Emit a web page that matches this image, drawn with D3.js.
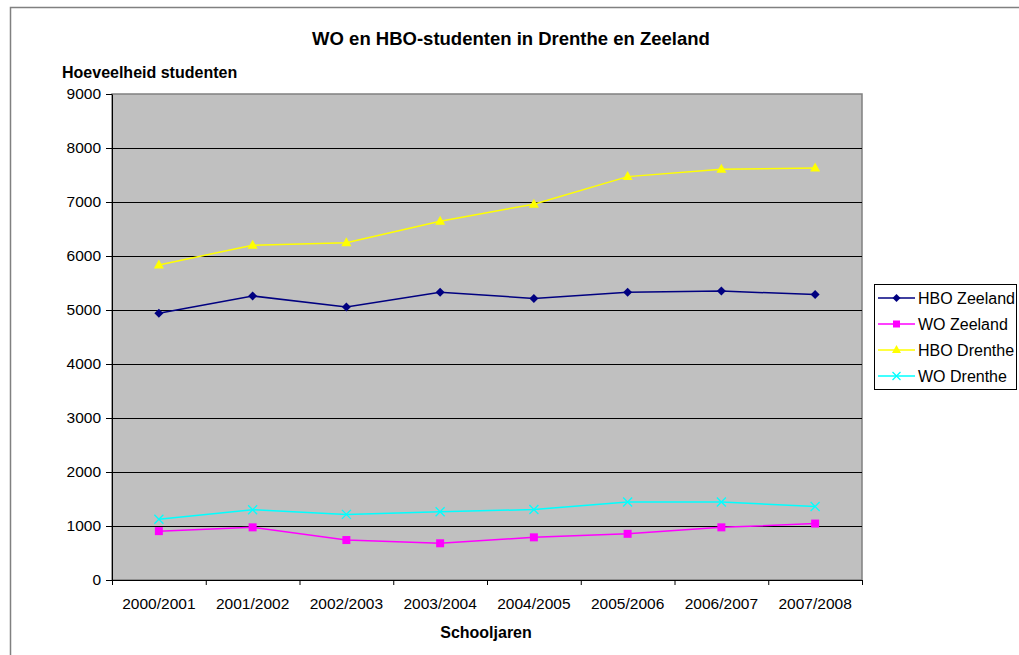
<!DOCTYPE html>
<html>
<head>
<meta charset="utf-8">
<script src="https://cdn.jsdelivr.net/npm/d3@7/dist/d3.min.js"></script>
<style>
  body { margin: 0; background: #fff; }
  svg { display: block; font-family: "Liberation Sans", Arial, sans-serif; }
</style>
</head>
<body>
<svg id="chart" width="1019" height="655"></svg>
<script>
// Chart data
var years = ['2000/2001', '2001/2002', '2002/2003', '2003/2004', '2004/2005', '2005/2006', '2006/2007', '2007/2008'];
var hboZeeland = [4940, 5260, 5055, 5330, 5215, 5330, 5350, 5285];
var woZeeland = [905, 975, 740, 680, 790, 855, 975, 1045];
var hboDrenthe = [5835, 6200, 6245, 6645, 6960, 7470, 7605, 7630];
var woDrenthe = [1125, 1300, 1215, 1265, 1305, 1445, 1445, 1360];
var yTicks = [0, 1000, 2000, 3000, 4000, 5000, 6000, 7000, 8000, 9000];

var series = [
  { name: 'HBO Zeeland', values: hboZeeland, color: '#000080', marker: 'diamond' },
  { name: 'WO Zeeland', values: woZeeland, color: '#FF00FF', marker: 'square' },
  { name: 'HBO Drenthe', values: hboDrenthe, color: '#FFFF00', marker: 'triangle' },
  { name: 'WO Drenthe', values: woDrenthe, color: '#00FFFF', marker: 'cross' }
];

var svg = d3.select('#chart');
var margin = { top: 94, left: 112 };
var innerWidth = 750;
var innerHeight = 486;
var tickFont = 15.5;

// Outer chart frame (runs past the right and bottom edge)
svg.append('path')
  .attr('d', 'M10.5,660V7.5H1030')
  .attr('fill', 'none').attr('stroke', '#808080').attr('stroke-width', 1.5);

var x = d3.scaleBand().domain(years).range([0, innerWidth]);
var y = d3.scaleLinear().domain([0, 9000]).range([innerHeight, 0]);

var g = svg.append('g').attr('transform', 'translate(' + margin.left + ',' + margin.top + ')');

// Plot area
g.append('rect')
  .attr('width', innerWidth).attr('height', innerHeight)
  .attr('fill', '#C0C0C0').attr('stroke', '#808080').attr('stroke-width', 1.5);

// Gridlines
g.selectAll('.grid').data(yTicks.slice(1, -1)).enter().append('line')
  .attr('x1', 0).attr('x2', innerWidth)
  .attr('y1', function (d) { return Math.round(y(d)) + 0.5; })
  .attr('y2', function (d) { return Math.round(y(d)) + 0.5; })
  .attr('stroke', '#000').attr('stroke-width', 1);

// Axes
var yAxis = d3.axisLeft(y).tickValues(yTicks).tickSizeInner(6).tickSizeOuter(0).tickPadding(5).tickFormat(d3.format('d'));
var yg = g.append('g').call(yAxis);
var xAxis = d3.axisBottom(d3.scaleLinear().domain([0, years.length]).range([0, innerWidth]))
  .tickValues(d3.range(years.length + 1)).tickSizeInner(5).tickSizeOuter(0);
var xg = g.append('g').attr('transform', 'translate(0,' + innerHeight + ')').call(xAxis);
xg.selectAll('.tick text').remove();
[yg, xg].forEach(function (a) {
  a.select('.domain').attr('stroke', '#000').attr('stroke-width', 1);
  a.selectAll('.tick line').attr('stroke', '#000');
  a.selectAll('text').attr('font-size', tickFont).attr('fill', '#000').attr('font-family', '"Liberation Sans", Arial, sans-serif');
});

g.selectAll('.xlabel').data(years).enter().append('text')
  .attr('x', function (d) { return x(d) + x.bandwidth() / 2; })
  .attr('y', innerHeight + 29)
  .attr('text-anchor', 'middle').attr('font-size', tickFont)
  .text(function (d) { return d; });

// Marker drawing
function drawMarker(sel, type, color, size) {
  var s = size;
  if (type === 'diamond') {
    sel.append('path').attr('d', 'M0,' + (-s) + 'L' + s + ',0L0,' + s + 'L' + (-s) + ',0Z').attr('fill', color);
  } else if (type === 'square') {
    sel.append('rect').attr('x', -s + 0.5).attr('y', -s + 0.5).attr('width', 2 * s - 1).attr('height', 2 * s - 1).attr('fill', color);
  } else if (type === 'triangle') {
    sel.append('path').attr('d', 'M0,' + (-s - 1) + 'L' + (s + 0.5) + ',' + (s - 1) + 'L' + (-s - 0.5) + ',' + (s - 1) + 'Z').attr('fill', color);
  } else {
    sel.append('path').attr('d', 'M' + (-s) + ',' + (-s) + 'L' + s + ',' + s + 'M' + s + ',' + (-s) + 'L' + (-s) + ',' + s)
      .attr('stroke', color).attr('stroke-width', 1.3).attr('fill', 'none');
  }
}

var line = d3.line()
  .x(function (d, i) { return x(years[i]) + x.bandwidth() / 2; })
  .y(function (d) { return y(d); });

series.forEach(function (s) {
  g.append('path').datum(s.values)
    .attr('d', line).attr('fill', 'none')
    .attr('stroke', s.color).attr('stroke-width', 1.5);
  s.values.forEach(function (v, i) {
    var m = g.append('g').attr('transform', 'translate(' + (x(years[i]) + x.bandwidth() / 2) + ',' + y(v) + ')');
    drawMarker(m, s.marker, s.color, 4.5);
  });
});

// Titles
svg.append('text').attr('x', 511).attr('y', 45).attr('text-anchor', 'middle')
  .attr('font-size', 18.5).attr('font-weight', 'bold').text('WO en HBO-studenten in Drenthe en Zeeland');
svg.append('text').attr('x', 62).attr('y', 78)
  .attr('font-size', 16).attr('font-weight', 'bold').text('Hoeveelheid studenten');
svg.append('text').attr('x', 486).attr('y', 638).attr('text-anchor', 'middle')
  .attr('font-size', 16).attr('font-weight', 'bold').text('Schooljaren');

// Legend
var legend = svg.append('g').attr('transform', 'translate(874,284)');
legend.append('rect').attr('x', 0.5).attr('y', 0.5).attr('width', 142).attr('height', 105)
  .attr('fill', '#fff').attr('stroke', '#000').attr('stroke-width', 1);
series.forEach(function (s, i) {
  var row = legend.append('g').attr('transform', 'translate(0,' + (14 + i * 26) + ')');
  row.append('line').attr('x1', 4).attr('x2', 41).attr('y1', 0).attr('y2', 0)
    .attr('stroke', s.color).attr('stroke-width', 1.5);
  var m = row.append('g').attr('transform', 'translate(22.5,0)');
  drawMarker(m, s.marker, s.color, 4);
  row.append('text').attr('x', 44).attr('y', 6).attr('font-size', 16).text(s.name);
});
</script>
</body>
</html>
